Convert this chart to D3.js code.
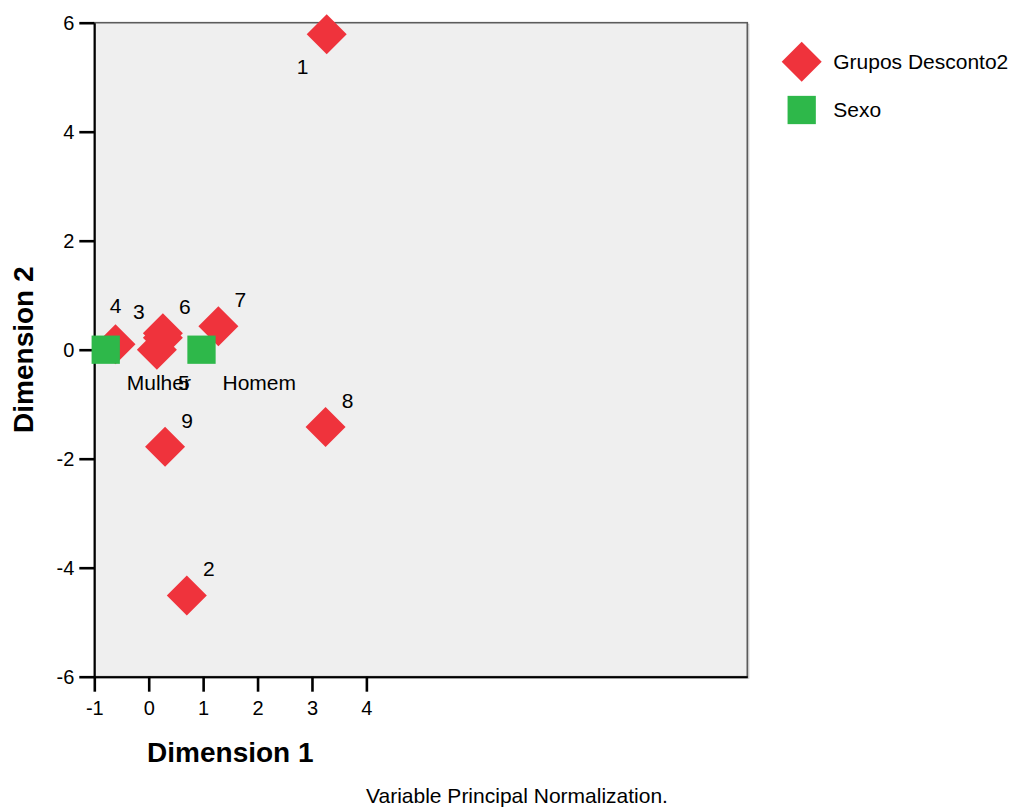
<!DOCTYPE html>
<html>
<head>
<meta charset="utf-8">
<script src="https://cdn.jsdelivr.net/npm/d3@7"></script>
<style>
  html, body { margin: 0; padding: 0; background: #ffffff; }
  svg { display: block; font-family: "Liberation Sans", Arial, sans-serif; }
</style>
</head>
<body>
<svg id="chart" width="1012" height="807"></svg>
<script>
// Category points: Grupos Desconto2 (diamonds)
const groupLabels = ["1", "2", "3", "4", "5", "6", "7", "8", "9"];
const groupDim1 = [3.27, 0.70, 0.26, -0.61, 0.15, 0.26, 1.28, 3.25, 0.30];
const groupDim2 = [5.79, -4.51, 0.22, 0.10, 0.00, 0.30, 0.43, -1.42, -1.78];
const groupLabelSide = ["ll", "ur", "ul", "u", "lr", "ur", "ur", "ur", "ur"];

// Category points: Sexo (squares)
const sexLabels = ["Mulher", "Homem"];
const sexDim1 = [-0.79, 0.97];
const sexDim2 = [0.00, 0.00];
const sexLabelSide = ["lr", "lr"];

// Axis ticks
const xTicks = [-1, 0, 1, 2, 3, 4];
const yTicks = [-6, -4, -2, 0, 2, 4, 6];

const legendNames = ["Grupos Desconto2", "Sexo"];
const noteText = "Variable Principal Normalization.";

const RED = "#ef333c";
const GREEN = "#2eb84a";

const svg = d3.select("#chart");

const plot = { left: 94.3, right: 747.3, top: 22.7, bottom: 676.7 };
const x = d3.scaleLinear().domain([-1, 11]).range([plot.left, plot.right]);
const y = d3.scaleLinear().domain([-6, 6]).range([plot.bottom, plot.top]);

// Plot panel with a faint drop edge on the right and bottom
svg.append("rect")
  .attr("x", plot.left + 1.5).attr("y", plot.top + 1.5)
  .attr("width", plot.right - plot.left).attr("height", plot.bottom - plot.top)
  .attr("fill", "none").attr("stroke", "#c4c4c4").attr("stroke-width", 1);
svg.append("rect")
  .attr("x", plot.left).attr("y", plot.top)
  .attr("width", plot.right - plot.left).attr("height", plot.bottom - plot.top)
  .attr("fill", "#efefef").attr("stroke", "#5c5c5c").attr("stroke-width", 1.6);

// Axes
const xAxis = d3.axisBottom(x).tickValues(xTicks).tickSize(15).tickSizeOuter(0).tickPadding(9)
  .tickFormat(d3.format("d"));
const yAxis = d3.axisLeft(y).tickValues(yTicks).tickSize(15).tickSizeOuter(0).tickPadding(5)
  .tickFormat(d3.format("d"));

const gx = svg.append("g").attr("transform", `translate(0,${plot.bottom})`).call(xAxis);
const gy = svg.append("g").attr("transform", `translate(${plot.left},0)`).call(yAxis);

[gx, gy].forEach(g => {
  g.select(".domain").attr("stroke", "#000").attr("stroke-width", 2);
  g.selectAll(".tick line").attr("stroke", "#000").attr("stroke-width", 2.6);
  g.selectAll(".tick text")
    .attr("fill", "#000")
    .style("font-family", "'Liberation Sans', Arial, sans-serif")
    .style("font-size", "20px");
});
gx.selectAll(".tick text").text(d => d < 0 ? "-" + Math.abs(d) : d);
gy.selectAll(".tick text").text(d => d < 0 ? "-" + Math.abs(d) : d);

// Axis titles
svg.append("text")
  .attr("x", (x(xTicks[0]) + x(xTicks[xTicks.length - 1])) / 2)
  .attr("y", 762)
  .attr("text-anchor", "middle")
  .style("font-size", "28px").style("font-weight", "bold")
  .text("Dimension 1");

svg.append("text")
  .attr("transform", `translate(33,${(plot.top + plot.bottom) / 2}) rotate(-90)`)
  .attr("text-anchor", "middle")
  .style("font-size", "28px").style("font-weight", "bold")
  .text("Dimension 2");

// Marker shapes
const diamond = d3.symbol().type(d3.symbolSquare).size(800);
const square = d3.symbol().type(d3.symbolSquare).size(800);

const groups = groupLabels.map((lab, i) => ({ lab, d1: groupDim1[i], d2: groupDim2[i], side: groupLabelSide[i] }));
const sexes = sexLabels.map((lab, i) => ({ lab, d1: sexDim1[i], d2: sexDim2[i], side: sexLabelSide[i] }));

const marks = svg.append("g");
marks.selectAll("path.grp").data(groups).join("path")
  .attr("class", "grp")
  .attr("d", diamond)
  .attr("fill", RED)
  .attr("transform", d => `translate(${x(d.d1)},${y(d.d2)}) rotate(45)`);

marks.selectAll("path.sex").data(sexes).join("path")
  .attr("class", "sex")
  .attr("d", square)
  .attr("fill", GREEN)
  .attr("transform", d => `translate(${x(d.d1)},${y(d.d2)})`);

// Point labels, placed to a side of each marker
const sideOffset = {
  ur: { dx: 22, dy: -19, anchor: "middle" },
  ul: { dx: -24, dy: -19, anchor: "middle" },
  u:  { dx: 0, dy: -31, anchor: "middle" },
  lr: { dx: 21, dy: 40, anchor: "start" },
  ll: { dx: -24, dy: 40, anchor: "middle" }
};

const labels = svg.append("g").style("font-size", "21px");
labels.selectAll("text").data(groups.concat(sexes)).join("text")
  .attr("x", d => x(d.d1) + sideOffset[d.side].dx)
  .attr("y", d => y(d.d2) + sideOffset[d.side].dy)
  .attr("text-anchor", d => sideOffset[d.side].anchor)
  .attr("fill", "#000")
  .text(d => d.lab);

// Legend
const legend = svg.append("g").attr("transform", "translate(801.7,0)");
const legendRows = [
  { name: legendNames[0], cy: 61.7, shape: "diamond", color: RED },
  { name: legendNames[1], cy: 110, shape: "square", color: GREEN }
];
legend.selectAll("path").data(legendRows).join("path")
  .attr("d", d => d.shape === "diamond" ? diamond() : square())
  .attr("fill", d => d.color)
  .attr("transform", d => `translate(0,${d.cy})` + (d.shape === "diamond" ? " rotate(45)" : ""));
legend.selectAll("text").data(legendRows).join("text")
  .attr("x", 31.5)
  .attr("y", d => d.cy + 7.3)
  .style("font-size", "21px")
  .text(d => d.name);

// Footnote
svg.append("text")
  .attr("x", 517).attr("y", 803)
  .attr("text-anchor", "middle")
  .style("font-size", "21px")
  .text(noteText);
</script>
</body>
</html>
